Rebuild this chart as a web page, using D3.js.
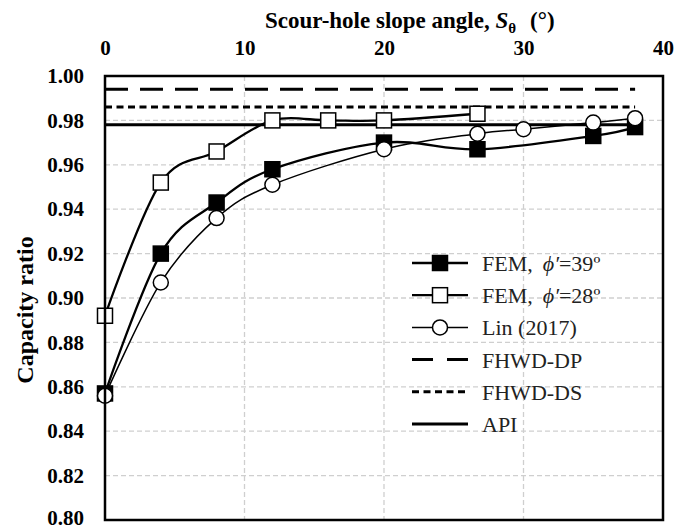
<!DOCTYPE html>
<html>
<head>
<meta charset="utf-8">
<script src="https://cdn.jsdelivr.net/npm/d3@7"></script>
<style>
  body { margin: 0; background: #fff; }
  svg text { font-family: "Liberation Serif", Tinos, "Times New Roman", Times, "DejaVu Serif", serif; }
</style>
</head>
<body>
<script>
// Data
const fem39X = [0, 4, 8, 12, 20, 26.7, 35, 38];
const fem39Y = [0.857, 0.920, 0.943, 0.958, 0.970, 0.967, 0.973, 0.977];
const fem28X = [0, 4, 8, 12, 16, 20, 26.7];
const fem28Y = [0.892, 0.952, 0.966, 0.980, 0.980, 0.980, 0.983];
const linX = [0, 4, 8, 12, 20, 26.7, 30, 35, 38];
const linY = [0.856, 0.907, 0.936, 0.951, 0.967, 0.974, 0.976, 0.979, 0.981];
const refX = [0, 38];
const dpY = 0.994, dsY = 0.986, apiY = 0.978;
const xTicks = [0, 10, 20, 30, 40];
const yTicks = d3.range(0.80, 1.0001, 0.02);
const legendLabels = ["FEM,", "FEM,", "Lin (2017)", "FHWD-DP", "FHWD-DS", "API"];

const serif = '"Liberation Serif", Tinos, "Times New Roman", Times, "DejaVu Serif", serif';
const margin = { top: 76, right: 15, bottom: 10, left: 105 };
const W = 678, H = 530;
const width = W - margin.left - margin.right;
const height = H - margin.top - margin.bottom;

const svg = d3.select("body").append("svg")
    .attr("width", W).attr("height", H)
    .attr("font-family", serif);
const g = svg.append("g")
    .attr("transform", `translate(${margin.left},${margin.top})`);

const x = d3.scaleLinear().domain([0, 40]).range([0, width]);
const y = d3.scaleLinear().domain([0.80, 1.00]).range([height, 0]);

// gridlines
g.append("g").selectAll("line").data(yTicks.slice(1, -1)).join("line")
    .attr("x1", 0).attr("x2", width)
    .attr("y1", d => y(d)).attr("y2", d => y(d))
    .attr("stroke", "#cfcfcf").attr("stroke-width", 1.3).attr("stroke-dasharray", "5,3");
g.append("g").selectAll("line").data(xTicks.slice(1, -1)).join("line")
    .attr("x1", d => x(d)).attr("x2", d => x(d))
    .attr("y1", 0).attr("y2", height)
    .attr("stroke", "#cfcfcf").attr("stroke-width", 1.3).attr("stroke-dasharray", "5,3");

// axes
const xAxis = g.append("g")
    .call(d3.axisTop(x).tickValues(xTicks).tickSize(0).tickPadding(21).tickFormat(d3.format("d")));
const yAxis = g.append("g")
    .call(d3.axisLeft(y).tickValues(yTicks).tickSize(0).tickPadding(21).tickFormat(d3.format(".2f")));
[xAxis, yAxis].forEach(a => {
  a.attr("font-family", null).attr("font-size", null);
  a.select(".domain").remove();
  a.selectAll("text")
   .style("font-family", serif)
   .style("font-size", "21px").style("font-weight", "bold").attr("fill", "#000");
});
// keep the lowest label inside the frame
yAxis.selectAll("text").filter(d => d < 0.81).attr("dy", "0.2em");

// reference lines
const refLine = (val, dash) => {
  g.append("line")
    .attr("x1", x(refX[0])).attr("x2", x(refX[1]))
    .attr("y1", y(val)).attr("y2", y(val))
    .attr("stroke", "#000").attr("stroke-width", 3)
    .attr("stroke-dasharray", dash);
};
refLine(dpY, "23,12");
refLine(dsY, "7,4.5");
refLine(apiY, null);

// series
const line = d3.line().x(d => x(d[0])).y(d => y(d[1])).curve(d3.curveCardinal);
const zip = (a, b) => a.map((v, i) => [v, b[i]]);
const s39 = zip(fem39X, fem39Y), s28 = zip(fem28X, fem28Y), sLin = zip(linX, linY);

const sq = 15;
function drawSquares(sel, data, fill) {
  sel.selectAll(null).data(data).join("rect")
    .attr("x", d => x(d[0]) - sq / 2).attr("y", d => y(d[1]) - sq / 2)
    .attr("width", sq).attr("height", sq)
    .attr("fill", fill).attr("stroke", "#000").attr("stroke-width", 1.5);
}

g.append("path").datum(s39).attr("d", line)
    .attr("fill", "none").attr("stroke", "#000").attr("stroke-width", 2.3);
drawSquares(g.append("g"), s39, "#000");

g.append("path").datum(s28).attr("d", line)
    .attr("fill", "none").attr("stroke", "#000").attr("stroke-width", 2.3);
drawSquares(g.append("g"), s28, "#fff");

g.append("path").datum(sLin).attr("d", line)
    .attr("fill", "none").attr("stroke", "#000").attr("stroke-width", 1.5);
g.append("g").selectAll("circle").data(sLin).join("circle")
    .attr("cx", d => x(d[0])).attr("cy", d => y(d[1])).attr("r", 7.5)
    .attr("fill", "#fff").attr("stroke", "#000").attr("stroke-width", 1.5);

// plot border
g.append("rect").attr("width", width).attr("height", height)
    .attr("fill", "none").attr("stroke", "#000").attr("stroke-width", 2.5);

// legend
const lg = svg.append("g");
const lx0 = 412, lx1 = 468, ltx = 482, ly0 = 263, lstep = 32.2;
legendLabels.forEach((lab, i) => {
  const ly = ly0 + i * lstep;
  const ln = lg.append("line").attr("x1", lx0).attr("x2", lx1).attr("y1", ly).attr("y2", ly)
    .attr("stroke", "#000").attr("stroke-width", i === 2 ? 1.5 : (i >= 3 ? 3 : 2.3));
  if (i === 3) ln.attr("stroke-dasharray", "21,14");
  if (i === 4) ln.attr("stroke-dasharray", "7,4.5");
  const mx = (lx0 + lx1) / 2;
  if (i < 2) {
    lg.append("rect").attr("x", mx - sq / 2).attr("y", ly - sq / 2).attr("width", sq).attr("height", sq)
      .attr("fill", i === 0 ? "#000" : "#fff").attr("stroke", "#000").attr("stroke-width", 1.5);
  } else if (i === 2) {
    lg.append("circle").attr("cx", mx).attr("cy", ly).attr("r", 7.5)
      .attr("fill", "#fff").attr("stroke", "#000").attr("stroke-width", 1.5);
  }
  const t = lg.append("text").attr("x", ltx).attr("y", ly + 8)
    .style("font-size", "22px").attr("fill", "#222");
  t.append("tspan").text(lab);
  if (i < 2) {
    t.append("tspan").attr("dx", 10).style("font-style", "italic").text("\u03D5\u2032");
    t.append("tspan").text(i === 0 ? "=39" : "=28");
    t.append("tspan").text("\u00BA");
  }
});

// titles
const title = svg.append("text").attr("x", 265).attr("y", 28)
    .style("font-size", "23px").style("font-weight", "bold");
title.append("tspan").text("Scour-hole slope angle, ");
title.append("tspan").style("font-style", "italic").text("S");
title.append("tspan").attr("dy", 5).style("font-size", "15px").text("\u03B8");
title.append("tspan").attr("dy", -5).attr("dx", 14).text("(\u00B0)");

svg.append("text")
    .attr("transform", "translate(33,310) rotate(-90)")
    .attr("text-anchor", "middle")
    .style("font-size", "24px").style("font-weight", "bold")
    .text("Capacity ratio");
</script>
</body>
</html>
